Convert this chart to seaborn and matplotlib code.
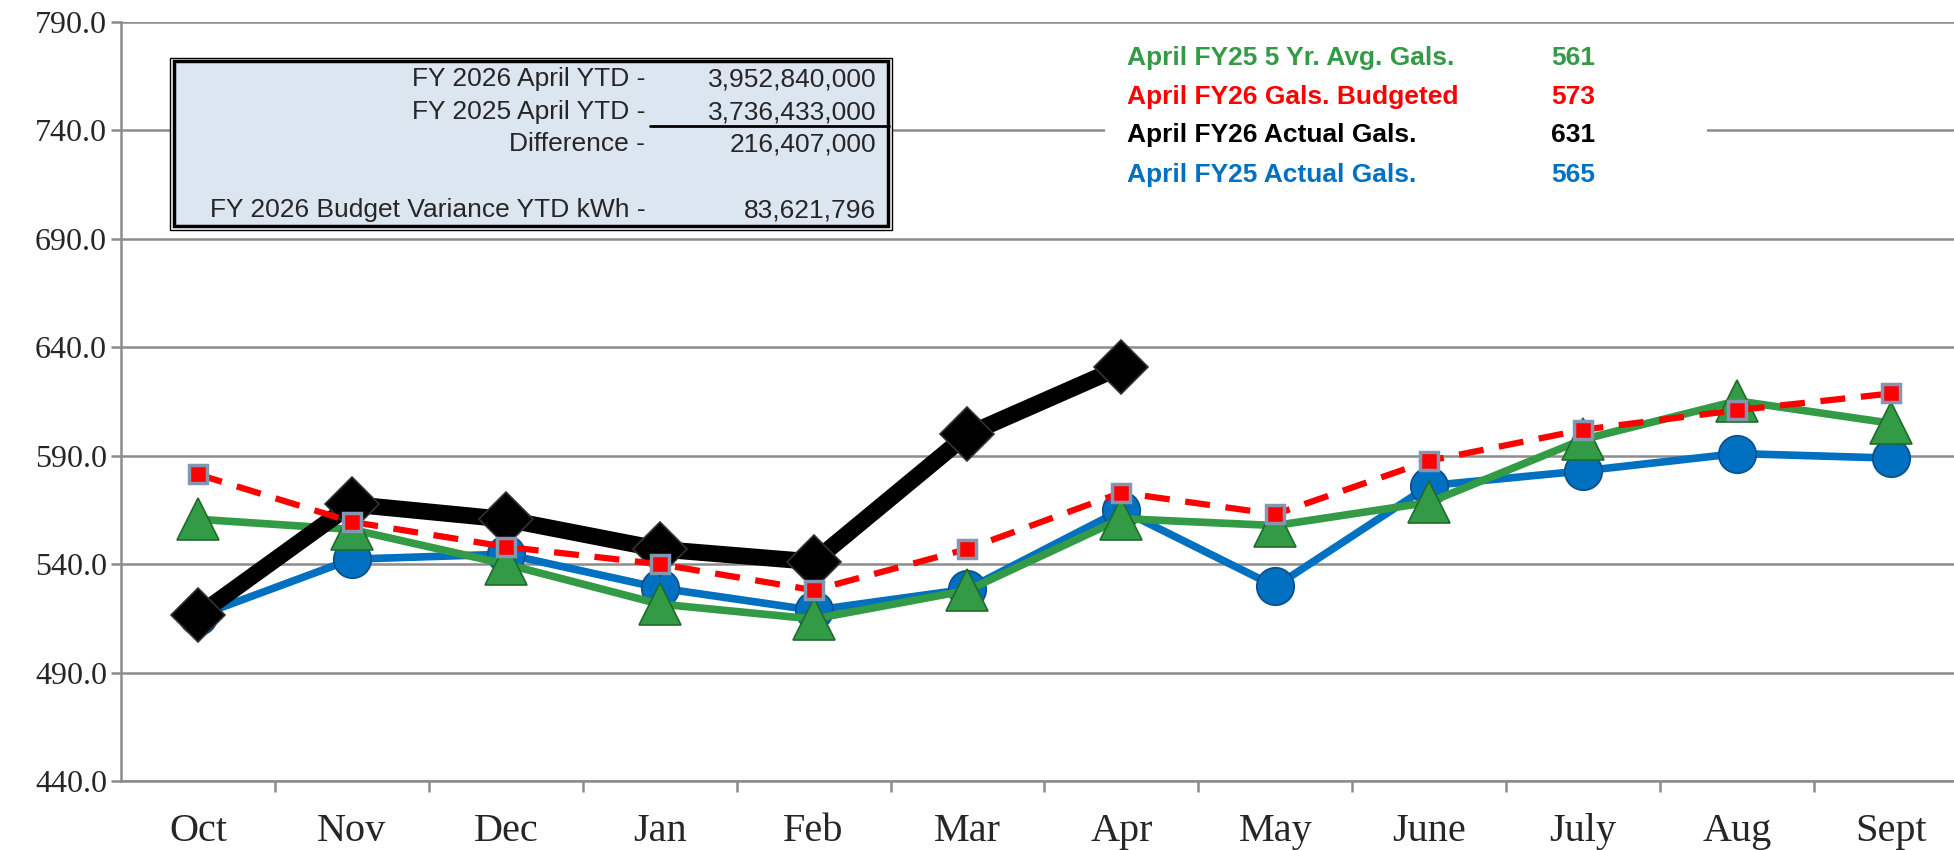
import numpy as np
import pandas as pd
import seaborn as sns
from matplotlib import pyplot as plt
from matplotlib.patches import Rectangle

# month order follows the fiscal year
months = ["Oct", "Nov", "Dec", "Jan", "Feb", "Mar", "Apr", "May", "June", "July", "Aug", "Sept"]

avg5_gals = [560.7, 556.0, 540.0, 521.6, 514.7, 527.9, 561.0, 557.8, 568.5, 597.5, 615.3, 605.0]
budget_gals = [581.4, 559.5, 548.0, 540.0, 528.0, 547.0, 573.0, 563.0, 587.7, 602.0, 611.0, 618.7]
fy26_gals = [516.4, 567.6, 560.7, 546.9, 541.1, 599.8, 631.0]
fy25_gals = [516.0, 542.3, 544.6, 529.0, 518.7, 528.5, 565.0, 529.7, 576.2, 583.0, 591.0, 588.9]

ytd_labels = ["FY 2026 April YTD -", "FY 2025 April YTD -", "Difference -", "FY 2026 Budget Variance YTD kWh -"]
ytd_values = ["3,952,840,000", "3,736,433,000", "216,407,000", "83,621,796"]

legend_labels = ["April FY25 5 Yr. Avg. Gals.", "April FY26 Gals. Budgeted",
                 "April FY26 Actual Gals.", "April FY25 Actual Gals."]
legend_values = ["561", "573", "631", "565"]

GREEN = "#339a45"
RED = "#ff0000"
BLACK = "#000000"
BLUE = "#0070c0"
GRID = "#8c8c8c"

sns.set_style("white")
plt.rcParams['font.family'] = ['Liberation Sans', 'DejaVu Sans']

fig = plt.figure(figsize=(19.54, 8.5), dpi=100)
ax = fig.add_axes([121 / 1954, 69 / 850, 1833 / 1954, 759 / 850])

df = pd.DataFrame({"x": np.arange(len(months)), "avg5": avg5_gals, "budget": budget_gals, "fy25": fy25_gals})
df26 = pd.DataFrame({"x": np.arange(len(fy26_gals)), "fy26": fy26_gals})

sns.lineplot(data=df, x="x", y="fy25", ax=ax, color=BLUE, linewidth=5.5,
             marker="o", markersize=27, markeredgecolor="#0a4f8a", markeredgewidth=1.2, zorder=3)
sns.lineplot(data=df, x="x", y="avg5", ax=ax, color=GREEN, linewidth=5.5,
             marker="^", markersize=30, markeredgecolor="#1f6b2c", markeredgewidth=1.2, zorder=4)
sns.lineplot(data=df26, x="x", y="fy26", ax=ax, color=BLACK, linewidth=12,
             marker="D", markersize=27, markeredgecolor="#333333", markeredgewidth=1.2, zorder=5)
sns.lineplot(data=df, x="x", y="budget", ax=ax, color=RED, linewidth=4.5, linestyle="--",
             marker="s", markersize=13, markeredgecolor="#8496b0", markeredgewidth=2.5, zorder=6)
ax.lines[-1].set_dashes([4, 2.5])

ax.set_ylim(440, 790)
ax.set_xlim(-0.5, 11.41)
ax.set_yticks(np.arange(440, 791, 50))
ax.yaxis.set_major_formatter(plt.FuncFormatter(lambda v, _: f"{v:.1f}"))
ax.set_xticks(np.arange(len(months)))
ax.set_xticklabels(months)
ax.set_xticks(np.arange(0.5, 11, 1), minor=True)
ax.set_xlabel("")
ax.set_ylabel("")

for lab in ax.get_xticklabels():
    lab.set_fontfamily("Liberation Serif")
    lab.set_fontsize(29)
for lab in ax.get_yticklabels():
    lab.set_fontfamily("Liberation Serif")
    lab.set_fontsize(23)

ax.tick_params(axis="x", which="major", length=0, pad=23)
ax.tick_params(axis="x", which="minor", length=8, width=1.8, color=GRID, direction="out", bottom=True)
ax.tick_params(axis="y", which="major", length=7, width=1.8, color=GRID, direction="out", pad=3, left=True)

ax.grid(visible=True, which="major", axis="y", color=GRID, linewidth=1.8)
ax.grid(visible=False, axis="x")
ax.set_axisbelow(True)
sns.despine(ax=ax, top=True, right=True)
for side in ("left", "bottom"):
    ax.spines[side].set_color(GRID)
    ax.spines[side].set_linewidth(1.8)

# YTD summary box with a double border
ax.add_patch(Rectangle((0.0267, 0.726), 0.3937, 0.2266, transform=ax.transAxes,
                       facecolor="white", edgecolor="black", linewidth=1.0, zorder=7))
ax.add_patch(Rectangle((0.0289, 0.731), 0.3893, 0.2174, transform=ax.transAxes,
                       facecolor="#dce6f1", edgecolor="black", linewidth=2.5, zorder=8))
row_y = [0.9245, 0.881, 0.839, 0.752]
for lab, val, y in zip(ytd_labels, ytd_values, row_y):
    ax.text(0.286, y, lab, transform=ax.transAxes, ha="right", va="center", fontsize=19, zorder=9)
    ax.text(0.412, y, val, transform=ax.transAxes, ha="right", va="center", fontsize=19, zorder=9)
ax.plot([0.2886, 0.4192], [0.863, 0.863], transform=ax.transAxes, color="black", linewidth=2, zorder=9)

# colored legend block on white background
ax.add_patch(Rectangle((0.537, 0.772), 0.328, 0.212, transform=ax.transAxes,
                       facecolor="white", edgecolor="none", zorder=2))
legend_colors = [GREEN, RED, BLACK, BLUE]
leg_y = [0.952, 0.901, 0.851, 0.798]
for lab, val, col, y in zip(legend_labels, legend_values, legend_colors, leg_y):
    ax.text(0.549, y, lab, transform=ax.transAxes, ha="left", va="center",
            fontsize=19, fontweight="bold", color=col, zorder=9)
    ax.text(0.780, y, val, transform=ax.transAxes, ha="left", va="center",
            fontsize=19, fontweight="bold", color=col, zorder=9)

fig.savefig("out.png", dpi=100)
